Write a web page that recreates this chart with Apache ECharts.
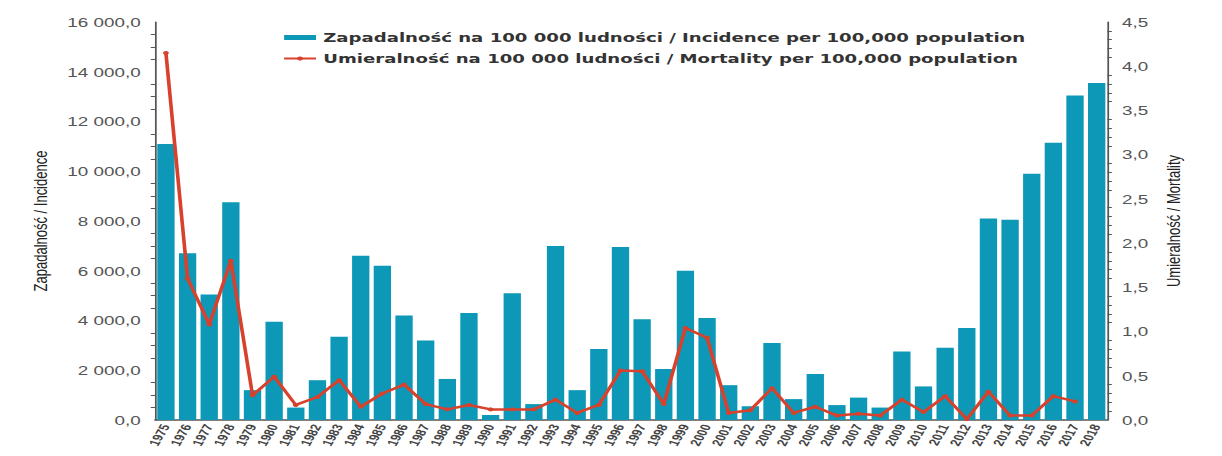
<!DOCTYPE html>
<html>
<head>
<meta charset="utf-8">
<script src="https://cdn.jsdelivr.net/npm/echarts@6/dist/echarts.min.js"></script>
<style>
  html, body { margin: 0; padding: 0; background: #fff; overflow: hidden; }
  /* the reference is a horizontally stretched picture, so draw narrow and stretch */
  #chart { width: 843px; height: 456px; transform: scaleX(1.4496); transform-origin: 0 0; }
</style>
</head>
<body>
<div id="chart"></div>
<script>
const years = [
  '1975', '1976', '1977', '1978', '1979', '1980', '1981', '1982', '1983', '1984',
  '1985', '1986', '1987', '1988', '1989', '1990', '1991', '1992', '1993', '1994',
  '1995', '1996', '1997', '1998', '1999', '2000', '2001', '2002', '2003', '2004',
  '2005', '2006', '2007', '2008', '2009', '2010', '2011', '2012', '2013', '2014',
  '2015', '2016', '2017', '2018'
]

// zapadalność / incidence per 100 000
const incidence = [
  11100, 6700, 5050, 8750, 1200, 3950, 500, 1600, 3350, 6600,
  6200, 4200, 3200, 1650, 4300, 200, 5100, 640, 7000, 1200,
  2850, 6950, 4050, 2050, 6000, 4100, 1400, 550, 3100, 840,
  1850, 600, 900, 500, 2750, 1350, 2900, 3700, 8100, 8050,
  9900, 11150, 13050, 13550
]

// umieralność / mortality per 100 000 (no value for 2018)
const mortality = [
  4.15, 1.6, 1.08, 1.8, 0.28, 0.49, 0.17, 0.26, 0.45, 0.15,
  0.3, 0.4, 0.18, 0.12, 0.17, 0.12, 0.12, 0.12, 0.23, 0.08,
  0.17, 0.56, 0.55, 0.18, 1.04, 0.93, 0.08, 0.11, 0.36, 0.08,
  0.15, 0.05, 0.07, 0.05, 0.23, 0.09, 0.27, 0.01, 0.32, 0.05,
  0.05, 0.27, 0.21, null
]

const incidenceName = 'Zapadalność na 100 000 ludności / Incidence per 100,000 population'
const mortalityName = 'Umieralność na 100 000 ludności / Mortality per 100,000 population'

const fmtLeft = (v) => {
  const [int, dec] = v.toFixed(1).split('.')
  return int.replace(/\B(?=(\d{3})+(?!\d))/g, ' ') + ',' + dec
}
const fmtRight = (v) => v.toFixed(1).replace('.', ',')

const axisColor = '#555'
const font = 'Liberation Sans, Arial, sans-serif'
const chart = echarts.init(document.getElementById('chart'), null, { renderer: 'svg' })

chart.setOption({
  backgroundColor: '#fff',
  animation: false,
  legend: {
    orient: 'vertical',
    left: 190,
    top: 26,
    itemGap: 8,
    itemWidth: 22,
    itemHeight: 5,
    textStyle: { color: '#333', fontFamily: 'DejaVu Sans', fontWeight: 'bold', fontSize: 12.5 },
    data: [
      { name: incidenceName, icon: 'rect' },
      { name: mortalityName },
    ],
  },
  grid: { left: 107, right: 79, top: 22, bottom: 36 },
  xAxis: {
    type: 'category',
    data: years,
    axisLine: { lineStyle: { color: axisColor, width: 1.5 } },
    axisTick: { length: 4, lineStyle: { color: axisColor } },
    axisLabel: {
      interval: 0,
      rotate: 67,
      margin: 5,
      color: '#444',
      fontSize: 10,
      fontWeight: 'bold',
      fontFamily: font,
    },
  },
  yAxis: [
    {
      type: 'value',
      min: 0,
      max: 16000,
      interval: 2000,
      name: 'Zapadalność / Incidence',
      nameLocation: 'middle',
      nameRotate: 90,
      nameGap: 73,
      nameTextStyle: { color: '#222', fontSize: 13, fontFamily: font },
      axisLine: { show: true, lineStyle: { color: axisColor, width: 1.2 } },
      axisTick: { length: 5, lineStyle: { color: axisColor } },
      minorTick: { show: true, splitNumber: 4, length: 3, lineStyle: { color: axisColor } },
      splitLine: { show: false },
      axisLabel: { formatter: fmtLeft, color: '#555', fontSize: 13, margin: 10, fontFamily: font },
    },
    {
      type: 'value',
      min: 0,
      max: 4.5,
      interval: 0.5,
      name: 'Umieralność / Mortality',
      nameLocation: 'middle',
      nameRotate: 90,
      nameGap: 39,
      nameTextStyle: { color: '#222', fontSize: 13, fontFamily: font },
      axisLine: { show: true, lineStyle: { color: axisColor, width: 1.2 } },
      axisTick: { length: 5, lineStyle: { color: axisColor } },
      minorTick: { show: true, splitNumber: 5, length: 3, lineStyle: { color: axisColor } },
      splitLine: { show: false },
      axisLabel: { formatter: fmtRight, color: '#555', fontSize: 13, margin: 10, fontFamily: font },
    },
  ],
  series: [
    {
      name: incidenceName,
      type: 'bar',
      data: incidence,
      barCategoryGap: '20%',
      itemStyle: { color: '#0c98b6' },
    },
    {
      name: mortalityName,
      type: 'line',
      yAxisIndex: 1,
      data: mortality,
      symbol: 'circle',
      symbolSize: 4,
      lineStyle: { color: '#d8412c', width: 2.5 },
      itemStyle: { color: '#d8412c' },
    },
  ],
})
</script>
</body>
</html>
